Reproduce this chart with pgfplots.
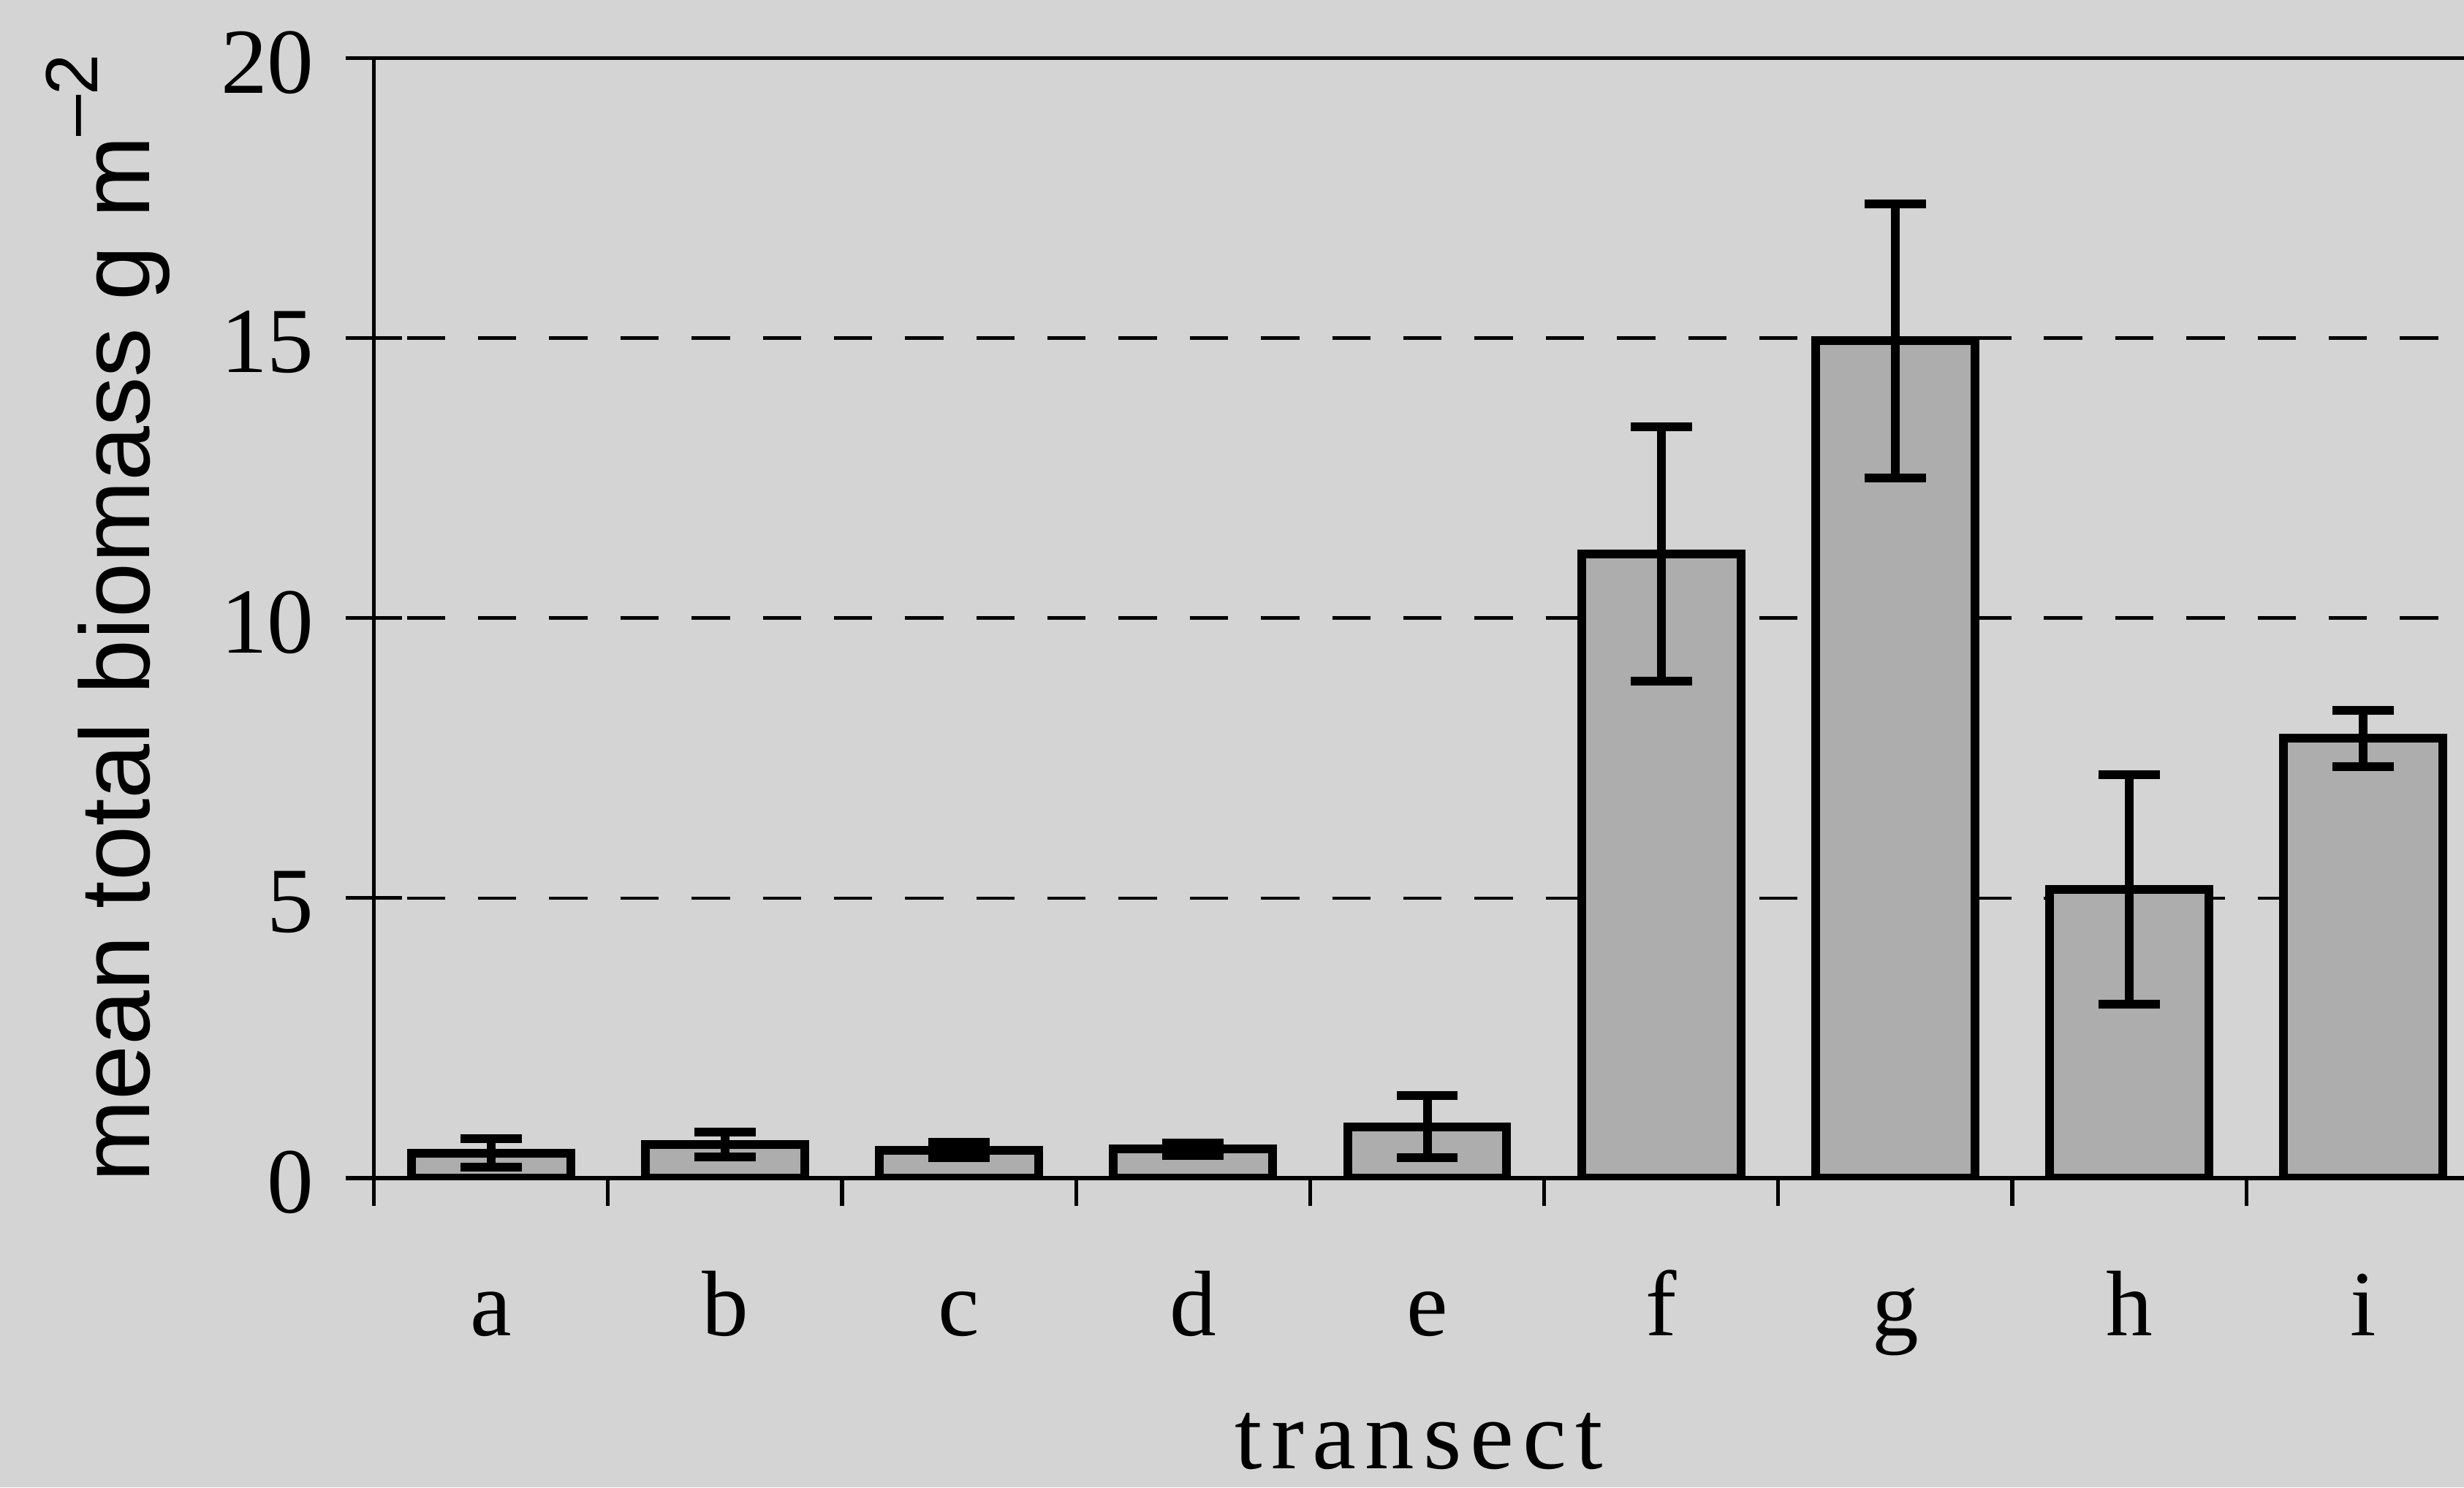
\documentclass[border=0pt]{standalone}
\usepackage{fontspec}
\setmainfont{Liberation Serif}
\newfontfamily\labelsans{Liberation Sans}
\usepackage{pgfplots}
\pgfplotsset{compat=1.18}
\definecolor{paper}{gray}{0.83}
\definecolor{barfill}{gray}{0.68}

% mean biomass per transect and its error
\pgfplotstableread{
x  y     e
1  0.45  0.26
2  0.60  0.22
3  0.50  0.14
4  0.52  0.11
5  0.92  0.56
6  11.15 2.27
7  14.95 2.45
8  5.15  2.05
9  7.85  0.50
}\biomass

\begin{document}
\begin{tikzpicture}
\path[use as bounding box, fill=paper] (-68.3pt,-56.5pt) rectangle (381.7pt,215.2pt);
\begin{axis}[
  at={(0pt,0pt)}, anchor=south west,
  scale only axis, width=381.7pt, height=204.6pt,
  xmin=0.5, xmax=9.43, ymin=0, ymax=20,
  separate axis lines,
  axis x line*=box, axis y line*=left,
  xtick pos=bottom, ytick pos=left,
  axis line style={line width=0.7pt, black},
  ytick={0,5,10,15,20},
  xtick={1,...,9},
  xticklabels={a,b,c,d,e,f,g,h,i},
  minor xtick={0.5,1.5,...,8.5},
  xtick align=outside, ytick align=center,
  major tick length=10.3pt, minor tick length=5pt,
  tick style={line width=0.7pt, black},
  major x tick style={draw=none},
  ymajorgrids,
  major grid style={dash pattern=on 7pt off 6pt, dash phase=7pt, line width=0.6pt, black},
  /pgf/number format/assume math mode=true,
  tick label style={font=\fontsize{17}{17}\selectfont},
  yticklabel style={anchor=east, xshift=-2.3pt, yshift=-0.8pt},
  xticklabel style={anchor=base, yshift=-18.4pt},
  ylabel={\labelsans\fontsize{18}{18}\selectfont mean total biomass g m\raisebox{9.5pt}{\fontsize{13.5}{13.5}\selectfont –2}},
  ylabel style={at={(axis description cs:-0.1074,0.5)}, anchor=base},
  xlabel={\fontsize{18}{18}\selectfont t\kern1.6pt r\kern1.6pt a\kern1.6pt n\kern1.6pt s\kern1.6pt e\kern1.6pt c\kern1.6pt t},
  xlabel style={at={(axis description cs:0.5,0)}, anchor=base, yshift=-53pt},
]
\addplot[ybar, bar width=0.68, fill=barfill, draw=black, line width=1.6pt,
  error bars/.cd, y dir=both, y explicit,
  error bar style={line width=1.6pt, black},
  error mark options={rotate=90, mark size=5.6pt, line width=1.6pt, black}]
  table[x=x, y=y, y error=e] {\biomass};
\end{axis}
\end{tikzpicture}
\end{document}
